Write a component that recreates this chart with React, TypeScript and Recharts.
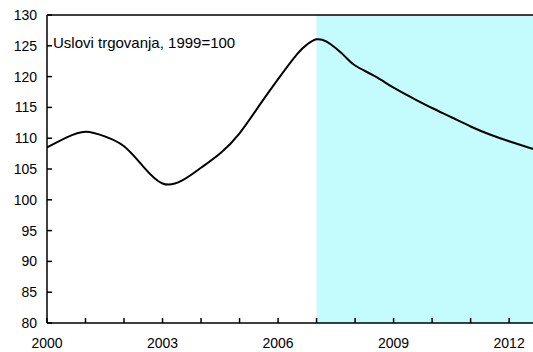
import { LineChart, Line, XAxis, YAxis, ReferenceArea, ReferenceLine } from "recharts";

const years = [
  2000, 2000.5, 2001, 2001.5, 2002, 2002.5, 2003, 2003.5, 2004, 2004.5, 2005, 2005.5,
  2006, 2006.5, 2006.75, 2007, 2007.25, 2007.5, 2007.75, 2008, 2008.5, 2009, 2009.5, 2010,
  2010.5, 2011, 2011.5, 2012, 2012.5, 2012.62,
];
const termsOfTrade = [
  108.5, 110.1, 111.05, 110.3, 108.7, 105.4, 102.65, 103.1, 105.2, 107.55, 110.8, 115.2,
  119.6, 123.7, 125.2, 126.05, 125.7, 124.6, 123.2, 121.8, 120.1, 118.2, 116.5, 114.9,
  113.4, 111.9, 110.6, 109.5, 108.5, 108.3,
];
const yTicks = [80, 85, 90, 95, 100, 105, 110, 115, 120, 125, 130];
const xTicks = [2000, 2001, 2002, 2003, 2004, 2005, 2006, 2007, 2008, 2009, 2010, 2011, 2012];
const xLabelYears = [2000, 2003, 2006, 2009, 2012];
const label = "Uslovi trgovanja, 1999=100";
const forecastStart = 2007;
const xEnd = 2012.62;

const data = years.map((y, i) => ({ year: y, value: termsOfTrade[i] }));

const font = "'Liberation Sans', Arial, sans-serif";

export default function App() {
  return (
    <div style={{ position: "fixed", top: 0, left: 0, width: 533, height: 352, background: "#fff" }}>
      <LineChart width={533} height={352} data={data} margin={{ top: 15, right: 0, bottom: 0, left: 0 }}>
        <ReferenceArea x1={forecastStart} x2={xEnd} y1={80} y2={130} fill="#c4fbfc" fillOpacity={1} stroke="none" />
        <ReferenceLine y={130} stroke="#000" strokeWidth={1.5} />
        <XAxis
          dataKey="year"
          type="number"
          domain={[2000, xEnd]}
          ticks={xTicks}
          interval={0}
          allowDataOverflow
          height={29}
          tickSize={-5}
          tickMargin={20}
          stroke="#000"
          strokeWidth={1.5}
          tick={{ fontSize: 14, fill: "#000", fontFamily: font }}
          tickFormatter={(v: number) => (xLabelYears.includes(v) ? String(v) : "")}
        />
        <YAxis
          type="number"
          domain={[80, 130]}
          ticks={yTicks}
          interval={0}
          width={47}
          tickSize={-5}
          tickMargin={15}
          stroke="#000"
          strokeWidth={1.5}
          tick={{ fontSize: 14, fill: "#000", fontFamily: font }}
        />
        <Line
          type="natural"
          dataKey="value"
          stroke="#000"
          strokeWidth={2}
          dot={false}
          isAnimationActive={false}
        />
      </LineChart>
      <div
        style={{
          position: "absolute",
          left: 53,
          top: 34,
          fontFamily: font,
          fontSize: 15,
          color: "#000",
          whiteSpace: "nowrap",
        }}
      >
        {label}
      </div>
    </div>
  );
}
